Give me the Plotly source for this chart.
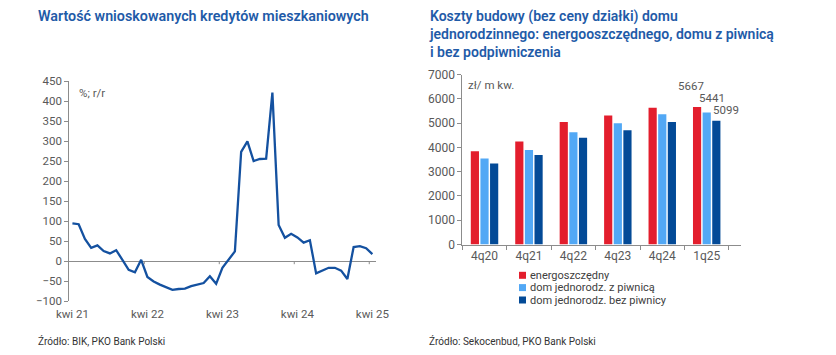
import plotly.graph_objects as go
import pandas as pd

# ---------------- data: left chart (monthly, y/y %) ----------------
months = [d.strftime("%Y-%m") for d in pd.date_range("2021-04-01", "2025-04-01", freq="MS")]
credit_yoy = [94, 92, 55, 33, 39, 25, 19, 27, 3, -22, -28, 3,
              -40, -51, -59, -65, -72, -70, -69, -63, -59, -55, -38, -57,
              -17, 3, 24, 273, 299, 250, 255, 256, 421, 90, 58, 68,
              59, 46, 52, -31, -25, -17, -17, -24, -45, 35, 37, 32, 17]
year_ticks = ["2021-04", "2022-04", "2023-04", "2024-04", "2025-04"]
year_tick_labels = ["kwi 21", "kwi 22", "kwi 23", "kwi 24", "kwi 25"]

# ---------------- data: right chart (PLN per sq m) ----------------
quarters = ["4q20", "4q21", "4q22", "4q23", "4q24", "1q25"]
series_names = ["energoszczędny", "dom jednorodz. z piwnicą", "dom jednorodz. bez piwnicy"]
energy_eff = [3845, 4244, 5055, 5318, 5635, 5667]
with_basement = [3541, 3900, 4630, 5000, 5372, 5441]
no_basement = [3338, 3693, 4398, 4715, 5055, 5099]
series_values = [energy_eff, with_basement, no_basement]
series_colors = ["#E31E2D", "#52A8F5", "#034A97"]

W, H = 836, 355
FONT = "Roboto"
GREY = "#595959"
AXIS = "#8C8C8C"
TITLE_C = "#1F5BA8"


def px(x):
    return x / W


def py(y):
    return 1 - y / H


fig = go.Figure()

# left line chart
fig.add_trace(go.Scatter(
    x=months, y=credit_yoy, mode="lines",
    line=dict(color="#1451A0", width=2.3),
    xaxis="x", yaxis="y", showlegend=False, hoverinfo="skip"))

# right bar chart
for name, vals, col in zip(series_names, series_values, series_colors):
    fig.add_trace(go.Bar(
        x=quarters, y=vals, name=name, marker=dict(color=col, line=dict(width=0)),
        xaxis="x2", yaxis="y2", showlegend=False, hoverinfo="skip"))

fig.update_layout(
    width=W, height=H, autosize=False,
    margin=dict(l=0, r=0, t=0, b=0, pad=0, autoexpand=False),
    showlegend=False,
    paper_bgcolor="white", plot_bgcolor="white",
    font=dict(family=FONT, color=GREY, size=11),
    barmode="group", bargap=0.35, bargroupgap=0.15,
    xaxis=dict(
        domain=[px(69.3), px(375.5)], anchor="y", type="category",
        categoryorder="array", categoryarray=months,
        range=[-0.5, len(months) - 0.5], automargin=False,
        tickmode="array", tickvals=year_ticks, ticktext=year_tick_labels,
        showline=False, ticks="", showgrid=False, zeroline=False,
        tickfont=dict(size=11.5, color=GREY), ticklabelstandoff=4,
    ),
    yaxis=dict(
        domain=[py(301), py(81)], anchor="x", automargin=False,
        range=[-100, 450], dtick=50,
        showline=True, linecolor=AXIS, linewidth=1,
        ticks="outside", ticklen=4, tickcolor=AXIS,
        showgrid=False, zeroline=True, zerolinecolor=AXIS, zerolinewidth=1,
        tickfont=dict(size=11.5, color=GREY),
    ),
    xaxis2=dict(
        domain=[px(462.3), px(740.7)], anchor="y2", type="category", automargin=False,
        showline=True, linecolor=AXIS, linewidth=1,
        ticks="outside", tickson="boundaries", ticklen=4, tickcolor=AXIS,
        showgrid=False, tickfont=dict(size=12, color=GREY),
    ),
    yaxis2=dict(
        domain=[py(244.5), py(74.7)], anchor="x2", automargin=False,
        range=[0, 7000], dtick=1000,
        showline=True, linecolor=AXIS, linewidth=1,
        ticks="outside", ticklen=4, tickcolor=AXIS,
        showgrid=False, zeroline=False,
        tickfont=dict(size=12, color=GREY),
    ),
)

shapes = []
# small tick marks on the zero line of the left chart (category boundaries, yearly)
for k in range(1, 5):
    xb = -0.5 + 12 * k
    shapes.append(dict(type="line", xref="x", yref="y", x0=xb, x1=xb, y0=0, y1=-8,
                       line=dict(color=AXIS, width=1)))

# manual legend for bar chart
legend_y = [275.3, 287.6, 300.0]
for name, col, yy in zip(series_names, series_colors, legend_y):
    shapes.append(dict(type="rect", xref="paper", yref="paper",
                       x0=px(519), x1=px(526), y0=py(yy + 3.5), y1=py(yy - 3.5),
                       fillcolor=col, line=dict(width=0)))
fig.update_layout(shapes=shapes)

ann = []
ann.append(dict(text="Wartość wnioskowanych kredytów mieszkaniowych",
                x=px(36), y=py(16), xref="paper", yref="paper",
                xanchor="left", yanchor="middle", showarrow=False,
                font=dict(family=FONT, size=14.3, color=TITLE_C, weight=600)))
ann.append(dict(text="Koszty budowy (bez ceny działki) domu<br>jednorodzinnego: energooszczędnego, domu z piwnicą<br>i bez podpiwniczenia",
                x=px(427), y=py(6), xref="paper", yref="paper",
                xanchor="left", yanchor="top", align="left", showarrow=False,
                font=dict(family=FONT, size=14, color=TITLE_C, weight=600)))
ann.append(dict(text="%; r/r", x=px(77), y=py(93), xref="paper", yref="paper",
                xanchor="left", yanchor="middle", showarrow=False,
                font=dict(size=11.5, color=GREY)))
ann.append(dict(text="zł/ m kw.", x=px(466), y=py(85), xref="paper", yref="paper",
                xanchor="left", yanchor="middle", showarrow=False,
                font=dict(size=11.5, color=GREY)))
for name, yy in zip(series_names, legend_y):
    ann.append(dict(text=name, x=px(528), y=py(yy), xref="paper", yref="paper",
                    xanchor="left", yanchor="middle", showarrow=False,
                    font=dict(size=11, color="#404040")))
# value labels on last quarter
label_xshift = [-16, 5, 19]
label_yshift = [21, 15, 10.5]
for vals, xs, ys in zip(series_values, label_xshift, label_yshift):
    ann.append(dict(text=str(vals[-1]), x=quarters[-1], y=vals[-1], xref="x2", yref="y2",
                    xanchor="center", yanchor="middle", xshift=xs, yshift=ys,
                    showarrow=False, font=dict(size=11.5, color=GREY)))
ann.append(dict(text="Źródło: BIK, PKO Bank Polski", x=px(36), y=py(341),
                xref="paper", yref="paper", xanchor="left", yanchor="middle",
                showarrow=False, font=dict(size=10, color="#333333")))
ann.append(dict(text="Źródło: Sekocenbud, PKO Bank Polski", x=px(427), y=py(341),
                xref="paper", yref="paper", xanchor="left", yanchor="middle",
                showarrow=False, font=dict(size=10, color="#333333")))
fig.update_layout(annotations=ann)

fig.write_html("out.html", config={"displayModeBar": False, "staticPlot": True},
               post_script="document.body.style.margin='0px';document.body.style.overflow='hidden';")
